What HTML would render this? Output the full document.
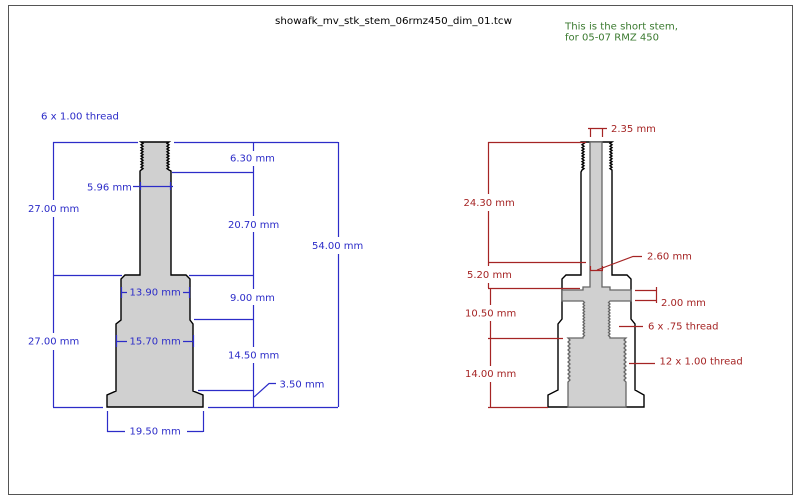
<!DOCTYPE html>
<html><head><meta charset="utf-8"><style>
html,body{margin:0;padding:0;background:#fff;width:800px;height:500px;overflow:hidden}
svg{display:block}
text{font-family:"DejaVu Sans","Liberation Sans",sans-serif;font-size:10px}
.b{fill:#2c2cc8}.r{fill:#a52424}.g{fill:#3b7a30}
</style></head><body>
<svg width="800" height="500" viewBox="0 0 800 500" xmlns="http://www.w3.org/2000/svg">
<rect x="8.5" y="5.5" width="784" height="489" fill="#fff" stroke="#555" stroke-width="1"/>
<text x="275" y="24" fill="#000" textLength="237" lengthAdjust="spacingAndGlyphs">showafk_mv_stk_stem_06rmz450_dim_01.tcw</text>
<text x="565" y="29.5" class="g" textLength="113" lengthAdjust="spacingAndGlyphs">This is the short stem,</text>
<text x="565" y="40.5" class="g" textLength="94" lengthAdjust="spacingAndGlyphs">for 05-07 RMZ 450</text>

<!-- LEFT OBJECT -->
<path d="M141,142 L169,142 L167,143.4 L169,144.8 L167,146.2 L169,147.6 L167,149 L169,150.4 L167,151.8 L169,153.2 L167,154.6 L169,156 L167,157.4 L169,158.8 L167,160.2 L169,161.6 L167,163 L169,164.4 L167,165.8 L169,167.2 L167,168.6 L169,170 L171,171 L171,275 L186,275 L190,279 L190,320 L193,324 L193,391 L203,395 L203,407 L107,407 L107,395 L116,391 L116,324 L121,320 L121,279 L125,275 L140,275 L140,171 L141,170 L143,168.6 L141,167.2 L143,165.8 L141,164.4 L143,163 L141,161.6 L143,160.2 L141,158.8 L143,157.4 L141,156 L143,154.6 L141,153.2 L143,151.8 L141,150.4 L143,149 L141,147.6 L143,146.2 L141,144.8 L143,143.4 Z" fill="#d0d0d0" stroke="#000" stroke-width="1.4" stroke-linejoin="miter"/>

<g stroke="#2c2cc8" stroke-width="1.2" fill="none">
<!-- top horizontal -->
<path d="M53,142.5 H138 M174,142.5 H338"/>
<!-- left vertical x=53 -->
<path d="M53.5,142 V200 M53.5,217 V333 M53.5,350 V407"/>
<!-- right vertical x=338 -->
<path d="M338.5,142 V237 M338.5,254 V407"/>
<!-- x=253 vertical -->
<path d="M253.5,142 V151 M253.5,166 V216 M253.5,232 V289 M253.5,305 V347 M253.5,363 V407"/>
<!-- horizontals -->
<path d="M172,172.5 H253 M53,275.5 H122 M189,275.5 H253 M194,319.5 H253 M198,390.5 H253 M53,407.5 H103 M208,407.5 H338"/>
<!-- 5.96 -->
<path d="M133,186.5 H173 M140.5,182 V190 M170.5,182 V190"/>
<!-- 13.90 -->
<path d="M122,292.5 H127 M183,292.5 H189 M121.5,287 V298 M189.5,287 V298"/>
<!-- 15.70 -->
<path d="M117,341.5 H127 M183,341.5 H193 M116.5,335 V347 M193.5,335 V347"/>
<!-- 3.50 leader -->
<path d="M254,397 L269,383.5 H276"/>
<!-- 19.50 -->
<path d="M107.5,411 V432 M203.5,411 V432 M107,431.5 H125 M187,431.5 H203"/>
</g>

<g class="b">
<text x="41" y="119.5" textLength="78" lengthAdjust="spacingAndGlyphs">6 x 1.00 thread</text>
<text x="230" y="161.5">6.30 mm</text>
<text x="87" y="190.5">5.96 mm</text>
<text x="28" y="212">27.00 mm</text>
<text x="228" y="228">20.70 mm</text>
<text x="312" y="249">54.00 mm</text>
<text x="129.5" y="295.3">13.90 mm</text>
<text x="230" y="301">9.00 mm</text>
<text x="129.5" y="344.5">15.70 mm</text>
<text x="28" y="344.5">27.00 mm</text>
<text x="228" y="358.5">14.50 mm</text>
<text x="279.5" y="387.5">3.50 mm</text>
<text x="129.5" y="434.5">19.50 mm</text>
</g>

<!-- RIGHT OBJECT -->
<path d="M582,142 L612,142 L610,143.4 L612,144.8 L610,146.2 L612,147.6 L610,149 L612,150.4 L610,151.8 L612,153.2 L610,154.6 L612,156 L610,157.4 L612,158.8 L610,160.2 L612,161.6 L610,163 L612,164.4 L610,165.8 L612,167.2 L610,168.6 L612,170 L612,275 L627,275 L631,279 L631,319 L635,324 L635,390 L644,395 L644,407 L548,407 L548,395 L558,390 L558,324 L562,319 L562,279 L566,275 L581,275 L581,172 L582,170 L584,168.6 L582,167.2 L584,165.8 L582,164.4 L584,163 L582,161.6 L584,160.2 L582,158.8 L584,157.4 L582,156 L584,154.6 L582,153.2 L584,151.8 L582,150.4 L584,149 L582,147.6 L584,146.2 L582,144.8 L584,143.4 Z" fill="#fff" stroke="#000" stroke-width="1.4"/>

<path d="M590,142 L602,142 L602,287 L610,287 L610,290 L631,290 L631,301 L610,301 L608.5,302.5 L610,304 L608.5,305.5 L610,307 L608.5,308.5 L610,310 L608.5,311.5 L610,313 L608.5,314.5 L610,316 L608.5,317.5 L610,319 L608.5,320.5 L610,322 L608.5,323.5 L610,325 L608.5,326.5 L610,328 L608.5,329.5 L610,331 L608.5,332.5 L610,334 L608.5,335.5 L610,337 L610,338 L626,338 L624,340 L626,342 L624,344 L626,346 L624,348 L626,350 L624,352 L626,354 L624,356 L626,358 L624,360 L626,362 L624,364 L626,366 L624,368 L626,370 L624,372 L626,374 L624,376 L626,378 L624,380 L626,382 L626,407 L568,407 L568,382 L570,380 L568,378 L570,376 L568,374 L570,372 L568,370 L570,368 L568,366 L570,364 L568,362 L570,360 L568,358 L570,356 L568,354 L570,352 L568,350 L570,348 L568,346 L570,344 L568,342 L570,340 L568,338 L583,338 L583,337 L584.5,335.5 L583,334 L584.5,332.5 L583,331 L584.5,329.5 L583,328 L584.5,326.5 L583,325 L584.5,323.5 L583,322 L584.5,320.5 L583,319 L584.5,317.5 L583,316 L584.5,314.5 L583,313 L584.5,311.5 L583,310 L584.5,308.5 L583,307 L584.5,305.5 L583,304 L584.5,302.5 L583,301 L562,301 L562,290 L583,290 L583,287 L590,287 Z" fill="#d0d0d0" stroke="#666" stroke-width="1.3"/>

<g stroke="#a52424" stroke-width="1.2" fill="none">
<path d="M488,142.5 H586"/>
<path d="M488.5,142 V194 M488.5,211 V262"/>
<path d="M488,262.5 H586"/>
<path d="M488.5,262 V266 M488.5,283 V288"/>
<path d="M488,288.5 H580"/>
<path d="M490.5,288 V305 M490.5,321 V366 M490.5,382 V407"/>
<path d="M488,338.5 H563 M488,407.5 H548"/>
<!-- 2.35 -->
<path d="M588,128.5 H607 M590.5,128 V137 M602.5,128 V137"/>
<!-- 2.60 -->
<path d="M590.5,266 V270 M602.5,266 V270 M590,270.5 H603 M597,270 L633,256.5 H642"/>
<!-- 2.00 -->
<path d="M635,290.5 H656 M635,300.5 H656 M656.5,287 V303"/>
<!-- thread leaders -->
<path d="M619,326.5 H643 M629,363.5 H655"/>
</g>

<g class="r">
<text x="611" y="132">2.35 mm</text>
<text x="463.5" y="206">24.30 mm</text>
<text x="647" y="259.5">2.60 mm</text>
<text x="467" y="278">5.20 mm</text>
<text x="465" y="316.5">10.50 mm</text>
<text x="661" y="306">2.00 mm</text>
<text x="648" y="329.5">6 x .75 thread</text>
<text x="465" y="377">14.00 mm</text>
<text x="659.5" y="364.5">12 x 1.00 thread</text>
</g>
</svg>
</body></html>
